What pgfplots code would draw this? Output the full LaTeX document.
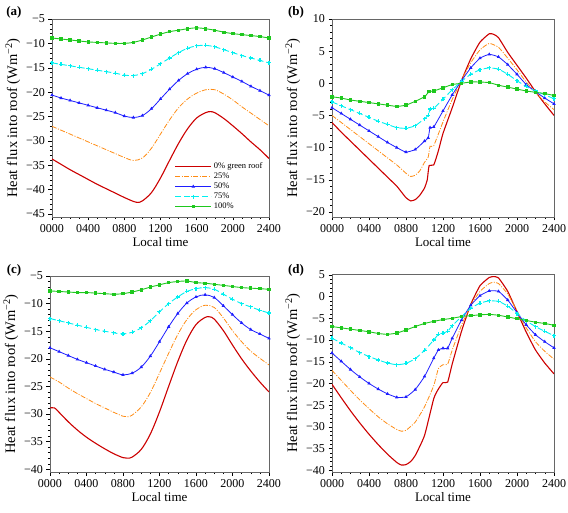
\documentclass[border=0pt]{standalone}
\usepackage{fontspec}
\setmainfont{Liberation Serif}
\usepackage{pgfplots}
\pgfplotsset{compat=1.18}
\definecolor{cred}{RGB}{204,0,0}
\definecolor{corange}{RGB}{255,140,20}
\definecolor{cblue}{RGB}{30,30,255}
\definecolor{ccyan}{RGB}{0,240,240}
\definecolor{cgreen}{RGB}{30,200,30}
\pgfplotsset{
  panel/.style={
    scale only axis,
    xmin=0, xmax=2400,
    xtick={0,400,800,1200,1600,2000,2400},
    xticklabels={0000,0400,0800,1200,1600,2000,2400},
    minor x tick num=3,
    ytick distance=5,
    minor y tick num=4,
    axis line style={draw=gray!80!black},
    tick align=outside, tick pos=left,
    every tick/.style={black, line width=0.4pt},
    major tick length=3.5pt, minor tick length=2pt,
    ticklabel style={font=\fontsize{12}{12}\selectfont},
    yticklabel={\pgfmathtruncatemacro\tv{round(\tick)}\ifnum\tv<0 −\number-\tv\else\tv\fi},
    xlabel={Local time},
    ylabel={Heat f\kern0.12em lux into roof (Wm\textsuperscript{−2})},
    xlabel style={font=\fontsize{13}{13}\selectfont, yshift=2pt},
    ylabel style={font=\fontsize{14.5}{14.5}\selectfont, yshift=-1pt},
  },
  T/.initial=0.5,
  s0/.style={cred, line width=1.1pt, no marks, smooth, tension=\pgfkeysvalueof{/pgfplots/T}},
  s25/.style={corange, line width=0.8pt, dash pattern=on 5pt off 1.5pt on 1pt off 1.5pt, no marks, smooth, tension=\pgfkeysvalueof{/pgfplots/T}},
  s50/.style={cblue, line width=0.8pt, mark=triangle*, mark size=1.2pt, mark options={solid}, smooth, tension=\pgfkeysvalueof{/pgfplots/T}},
  s75/.style={ccyan, line width=0.9pt, dash pattern=on 6pt off 3pt, mark=+, mark size=2pt, mark options={solid, line width=1.1pt}, smooth, tension=\pgfkeysvalueof{/pgfplots/T}},
  s100/.style={cgreen, line width=0.9pt, mark=square*, mark size=1.2pt, mark options={solid}, smooth, tension=\pgfkeysvalueof{/pgfplots/T}},
}
\begin{document}
\begin{tikzpicture}
\useasboundingbox (0,0) rectangle (568pt,512pt);
% ---------------- (a)
\begin{axis}[panel, T=0.55, at={(52pt,295pt)}, anchor=south west, width=217pt, height=198pt,
  ymin=-45.6, ymax=-5,
  legend style={at={(0.56,0.29)}, anchor=north west, draw=none, fill=none,
    font=\fontsize{8.5}{8.5}\selectfont, row sep=-1.2pt, inner sep=1pt},
  legend cell align=left,
  legend image code/.code={\draw[mark repeat=2,mark phase=2] plot[sharp plot] coordinates {(0pt,0pt) (18pt,0pt) (36pt,0pt)};}]
\addplot[s0] coordinates {(0,-33.7)(100,-34.8)(200,-35.9)(300,-36.9)(400,-37.9)(500,-38.9)(600,-39.8)(700,-40.7)(800,-41.6)(900,-42.4)(950,-42.6)(1000,-42.3)(1100,-40.6)(1200,-37.6)(1300,-34.0)(1400,-30.5)(1500,-27.5)(1600,-25.3)(1700,-24.2)(1750,-24.0)(1800,-24.2)(1900,-25.4)(2000,-26.9)(2100,-28.5)(2200,-30.2)(2300,-31.8)(2400,-33.6)};
\addlegendentry{0\% green roof}
\addplot[s25] coordinates {(0,-27.0)(100,-27.8)(200,-28.6)(300,-29.4)(400,-30.2)(500,-31.0)(600,-31.8)(700,-32.6)(800,-33.4)(900,-34.0)(1000,-33.5)(1100,-31.5)(1200,-28.6)(1300,-25.7)(1400,-23.2)(1500,-21.4)(1600,-20.2)(1700,-19.5)(1800,-19.5)(1900,-20.4)(2000,-21.6)(2100,-23.0)(2200,-24.3)(2300,-25.6)(2400,-26.9)};
\addlegendentry{25\%}
\addplot[s50] coordinates {(0,-20.6)(100,-21.2)(200,-21.7)(300,-22.2)(400,-22.7)(500,-23.2)(600,-23.7)(700,-24.2)(800,-24.9)(900,-25.2)(1000,-24.8)(1100,-23.4)(1200,-21.4)(1300,-19.4)(1400,-17.6)(1500,-16.2)(1600,-15.3)(1700,-14.9)(1800,-15.2)(1900,-16.0)(2000,-16.9)(2100,-17.8)(2200,-18.8)(2300,-19.7)(2400,-20.6)};
\addlegendentry{50\%}
\addplot[s75] coordinates {(0,-14.0)(100,-14.3)(200,-14.6)(300,-14.9)(400,-15.2)(500,-15.5)(600,-15.8)(700,-16.1)(800,-16.5)(900,-16.6)(1000,-16.2)(1100,-15.3)(1200,-14.2)(1300,-13.0)(1400,-11.9)(1500,-11.0)(1600,-10.5)(1700,-10.4)(1800,-10.7)(1900,-11.3)(2000,-11.9)(2100,-12.5)(2200,-13.0)(2300,-13.5)(2400,-14.0)};
\addlegendentry{75\%}
\addplot[s100] coordinates {(0,-8.9)(100,-9.1)(200,-9.3)(300,-9.5)(400,-9.7)(500,-9.8)(600,-9.9)(700,-10.0)(800,-10.0)(900,-9.8)(1000,-9.3)(1100,-8.7)(1200,-8.1)(1300,-7.6)(1400,-7.3)(1500,-7.0)(1600,-6.8)(1700,-7.0)(1800,-7.3)(1900,-7.7)(2000,-8.0)(2100,-8.2)(2200,-8.4)(2300,-8.6)(2400,-8.9)};
\addlegendentry{100\%}
\end{axis}
% ---------------- (b)
\begin{axis}[panel, T=0.3, at={(332pt,295pt)}, anchor=south west, width=222pt, height=198pt,
  ymin=-20.8, ymax=10]
\addplot[s0] coordinates {(0,-6.1)(100,-7.6)(200,-9.0)(300,-10.4)(400,-11.8)(500,-13.2)(600,-14.6)(700,-16.0)(750,-16.9)(800,-17.8)(850,-18.3)(900,-18.1)(950,-17.4)(1000,-16.3)(1030,-15.0)(1050,-12.8)(1100,-12.7)(1150,-10.5)(1200,-7.8)(1300,-3.8)(1400,0.4)(1500,3.8)(1600,6.4)(1700,7.7)(1750,7.6)(1800,7.1)(1900,4.8)(2000,2.8)(2100,0.8)(2200,-1.3)(2300,-3.2)(2400,-5.0)};
\addplot[s25] coordinates {(0,-5.0)(100,-6.1)(200,-7.2)(300,-8.3)(400,-9.4)(500,-10.5)(600,-11.6)(700,-12.7)(800,-14.0)(850,-14.5)(900,-14.3)(950,-13.6)(1000,-12.3)(1040,-11.5)(1060,-9.8)(1100,-9.7)(1200,-6.0)(1300,-2.5)(1400,0.5)(1500,3.2)(1600,5.2)(1700,6.2)(1800,5.6)(1900,3.9)(2000,2.1)(2100,0.2)(2200,-1.4)(2300,-2.9)(2400,-4.1)};
\addplot[s50] coordinates {(0,-3.8)(100,-4.7)(200,-5.6)(300,-6.5)(400,-7.4)(500,-8.3)(600,-9.2)(700,-10.0)(800,-10.7)(900,-10.3)(1000,-9.0)(1040,-8.5)(1060,-6.9)(1100,-6.8)(1200,-4.3)(1300,-1.8)(1400,0.4)(1500,2.4)(1600,3.9)(1700,4.5)(1800,4.1)(1900,2.9)(2000,1.4)(2100,-0.2)(2200,-1.3)(2300,-2.3)(2400,-3.2)};
\addplot[s75] coordinates {(0,-2.9)(100,-3.5)(200,-4.1)(300,-4.7)(400,-5.3)(500,-5.9)(600,-6.4)(700,-6.9)(800,-7.0)(900,-6.6)(1000,-5.5)(1040,-5.0)(1060,-4.0)(1100,-3.9)(1200,-2.5)(1300,-1.0)(1400,0.3)(1500,1.4)(1600,2.1)(1700,2.4)(1800,2.2)(1900,1.4)(2000,0.4)(2100,-0.5)(2200,-1.2)(2300,-1.8)(2400,-2.4)};
\addplot[s100] coordinates {(0,-2.1)(100,-2.3)(200,-2.6)(300,-2.8)(400,-3.0)(500,-3.2)(600,-3.4)(700,-3.6)(800,-3.4)(900,-2.8)(1000,-2.1)(1050,-1.3)(1100,-1.2)(1200,-0.7)(1300,-0.2)(1400,0.0)(1500,0.2)(1600,0.2)(1700,0.1)(1800,-0.3)(1900,-0.6)(2000,-0.9)(2100,-1.2)(2200,-1.4)(2300,-1.6)(2400,-1.9)};
\end{axis}
% ---------------- (c)
\begin{axis}[panel, T=0.55, at={(50pt,40pt)}, anchor=south west, width=219pt, height=196pt,
  ymin=-40.5, ymax=-5]
\addplot[s0] coordinates {(0,-28.9)(50,-28.9)(100,-29.7)(200,-31.4)(300,-32.9)(400,-34.2)(500,-35.3)(600,-36.3)(700,-37.2)(800,-37.9)(850,-38.0)(900,-37.8)(1000,-36.4)(1100,-33.6)(1200,-29.6)(1300,-25.0)(1400,-20.5)(1500,-16.6)(1600,-13.8)(1700,-12.5)(1750,-12.4)(1800,-12.8)(1900,-14.9)(2000,-17.5)(2100,-20.0)(2200,-22.2)(2300,-24.2)(2400,-26.0)};
\addplot[s25] coordinates {(0,-23.3)(100,-24.2)(200,-25.3)(300,-26.3)(400,-27.2)(500,-28.1)(600,-28.9)(700,-29.7)(800,-30.4)(850,-30.5)(900,-30.2)(1000,-28.7)(1100,-26.1)(1200,-22.6)(1300,-19.0)(1400,-15.6)(1500,-12.9)(1600,-11.1)(1700,-10.3)(1800,-10.7)(1900,-12.6)(2000,-14.9)(2100,-16.9)(2200,-18.6)(2300,-19.9)(2400,-21.1)};
\addplot[s50] coordinates {(0,-18.0)(100,-18.7)(200,-19.4)(300,-20.1)(400,-20.7)(500,-21.3)(600,-21.9)(700,-22.4)(800,-22.9)(900,-22.6)(1000,-21.5)(1100,-19.5)(1200,-16.9)(1300,-14.2)(1400,-11.8)(1500,-9.9)(1600,-8.8)(1700,-8.4)(1800,-8.9)(1900,-10.4)(2000,-12.0)(2100,-13.5)(2200,-14.7)(2300,-15.5)(2400,-16.3)};
\addplot[s75] coordinates {(0,-12.7)(100,-13.1)(200,-13.5)(300,-13.9)(400,-14.3)(500,-14.7)(600,-15.0)(700,-15.3)(800,-15.5)(900,-15.2)(1000,-14.4)(1100,-13.1)(1200,-11.5)(1300,-10.0)(1400,-8.8)(1500,-7.8)(1600,-7.3)(1700,-7.1)(1800,-7.4)(1900,-8.3)(2000,-9.2)(2100,-10.0)(2200,-10.6)(2300,-11.2)(2400,-11.7)};
\addplot[s100] coordinates {(0,-7.7)(100,-7.8)(200,-7.9)(300,-8.0)(400,-8.0)(500,-8.1)(600,-8.2)(700,-8.3)(800,-8.2)(900,-7.9)(1000,-7.5)(1100,-7.0)(1200,-6.6)(1300,-6.2)(1400,-6.0)(1500,-5.9)(1600,-6.2)(1700,-6.3)(1800,-6.5)(1900,-6.7)(2000,-6.9)(2100,-7.1)(2200,-7.2)(2300,-7.3)(2400,-7.4)};
\end{axis}
% ---------------- (d)
\begin{axis}[panel, T=0.3, at={(332pt,40pt)}, anchor=south west, width=222pt, height=198pt,
  ymin=-40.4, ymax=5.2]
\addplot[s0] coordinates {(0,-20.2)(100,-23.3)(200,-26.3)(300,-29.1)(400,-31.7)(500,-34.1)(600,-36.3)(700,-38.2)(750,-38.8)(800,-38.7)(850,-38.0)(900,-36.6)(1000,-32.0)(1100,-23.5)(1150,-21.3)(1200,-19.8)(1250,-19.7)(1300,-15.5)(1400,-8.0)(1500,-1.8)(1600,2.5)(1700,4.4)(1750,4.6)(1800,4.3)(1900,1.2)(2000,-3.5)(2100,-8.2)(2200,-12.3)(2300,-15.3)(2400,-17.8)};
\addplot[s25] coordinates {(0,-17.0)(100,-19.3)(200,-21.6)(300,-23.8)(400,-25.8)(500,-27.7)(600,-29.3)(700,-30.6)(750,-31.0)(800,-30.8)(900,-28.9)(1000,-25.4)(1100,-20.5)(1150,-16.6)(1200,-15.7)(1250,-15.6)(1300,-12.3)(1400,-6.6)(1500,-2.0)(1600,1.2)(1700,3.0)(1750,3.3)(1800,3.0)(1900,0.6)(2000,-3.3)(2100,-7.2)(2200,-10.4)(2300,-12.6)(2400,-14.4)};
\addplot[s50] coordinates {(0,-13.0)(100,-14.9)(200,-16.8)(300,-18.5)(400,-20.0)(500,-21.3)(600,-22.4)(700,-23.2)(800,-23.1)(900,-21.4)(1000,-18.4)(1100,-14.2)(1150,-12.3)(1200,-11.9)(1250,-11.9)(1300,-9.6)(1400,-5.4)(1500,-2.0)(1600,0.2)(1700,1.3)(1800,1.2)(1900,-0.8)(2000,-3.7)(2100,-6.5)(2200,-8.8)(2300,-10.4)(2400,-11.8)};
\addplot[s75] coordinates {(0,-9.6)(100,-10.7)(200,-11.8)(300,-12.9)(400,-13.8)(500,-14.6)(600,-15.3)(700,-15.7)(800,-15.4)(900,-14.3)(1000,-12.4)(1100,-10.0)(1150,-8.7)(1200,-8.4)(1250,-8.0)(1300,-6.7)(1400,-4.6)(1500,-2.7)(1600,-1.5)(1700,-1.0)(1800,-1.1)(1900,-2.2)(2000,-3.9)(2100,-5.6)(2200,-6.9)(2300,-8.0)(2400,-9.0)};
\addplot[s100] coordinates {(0,-6.9)(100,-7.2)(200,-7.5)(300,-7.8)(400,-8.1)(500,-8.5)(600,-8.7)(700,-8.4)(800,-7.7)(900,-6.9)(1000,-6.2)(1100,-5.7)(1200,-5.3)(1300,-5.0)(1400,-4.6)(1500,-4.4)(1600,-4.2)(1700,-4.1)(1800,-4.3)(1900,-4.7)(2000,-5.1)(2100,-5.5)(2200,-5.9)(2300,-6.2)(2400,-6.6)};
\end{axis}
\node[font=\bfseries\fontsize{13}{13}\selectfont] at (14pt,500pt) {(a)};
\node[font=\bfseries\fontsize{13}{13}\selectfont] at (296pt,500pt) {(b)};
\node[font=\bfseries\fontsize{13}{13}\selectfont] at (14pt,242pt) {(c)};
\node[font=\bfseries\fontsize{13}{13}\selectfont] at (296pt,242pt) {(d)};
\end{tikzpicture}
\end{document}
